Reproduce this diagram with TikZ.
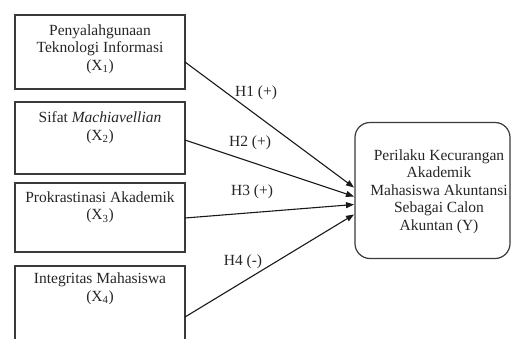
\documentclass[tikz,border=0pt]{standalone}
\usepackage{fontspec}
\setmainfont{Liberation Serif}
\usetikzlibrary{arrows.meta,calc}
\definecolor{boxgray}{HTML}{3A3A3A}
\definecolor{inkc}{HTML}{262626}
\begin{document}
\begin{tikzpicture}[x=1pt,y=-1pt,
  box/.style={draw=boxgray,line width=1.2pt,minimum width=170pt,inner sep=0pt,outer sep=0pt},
  ybox/.style={draw=boxgray,line width=1.2pt,rounded corners=15pt,minimum width=155pt,minimum height=136pt,inner sep=0pt,outer sep=0pt},
  txt/.style={align=center,text=inkc,font=\fontsize{15.5}{17.5}\selectfont,inner sep=0pt},
  lbl/.style={text=inkc,font=\fontsize{15.5}{17.5}\selectfont,inner sep=0pt},
  arr/.style={draw=black!90,line width=1.1pt,-{Triangle[length=8pt,width=6pt]}}]
\clip (0,0) rectangle (511,338);
\fill[white] (0,0) rectangle (511,338);
% boxes
\node[box,minimum height=74pt] (b1) at (100,52) {};
\node[box,minimum height=72pt] (b2) at (100,138) {};
\node[box,minimum height=69pt] (b3) at (100,217.5) {};
\node[box,minimum height=90pt] (b4) at (100,311) {};
\node[ybox] (y) at (432.5,190.5) {};
% texts
\node[txt] (t1) at (100,49) {Penyalahgunaan\\Teknologi Informasi\\(X\textsubscript{1})};
\node[txt] (t2) at (100,127.5) {Sifat \textit{Machiavellian}\\(X\textsubscript{2})};
\node[txt] (t3) at (100,207.5) {Prokrastinasi Akademik\\(X\textsubscript{3})};
\node[txt] (t4) at (100,289) {Integritas Mahasiswa\\(X\textsubscript{4})};
\node[txt] (ty) at (439,191.5) {Perilaku Kecurangan\\Akademik\\Mahasiswa Akuntansi\\Sebagai Calon\\Akuntan (Y)};
% connector ends
\coordinate (s1) at ($(b1.north east)+(0,47)$);
\coordinate (s2) at ($(b2.north east)+(0,38)$);
\coordinate (s3) at ($(b3.north east)+(0,35)$);
\coordinate (s4) at ($(b4.north east)+(0,51)$);
\coordinate (e1) at ($(y.north west)+(-1,65)$);
\coordinate (e2) at ($(y.north west)+(-1,74)$);
\coordinate (e3) at ($(y.north west)+(-1,82)$);
\coordinate (e4) at ($(y.north west)+(-1,92)$);
\draw[arr] (s1) -- (e1);
\draw[arr] (s2) -- (e2);
\draw[arr] (s3) -- (e3);
\draw[arr] (s4) -- (e4);
% labels
\node[lbl] (h1) at (256,93) {H1 (+)};
\node[lbl] (h2) at (250,143) {H2 (+)};
\node[lbl] (h3) at (252,192) {H3 (+)};
\node[lbl] (h4) at (243,262) {H4 (-)};
\end{tikzpicture}
\end{document}
